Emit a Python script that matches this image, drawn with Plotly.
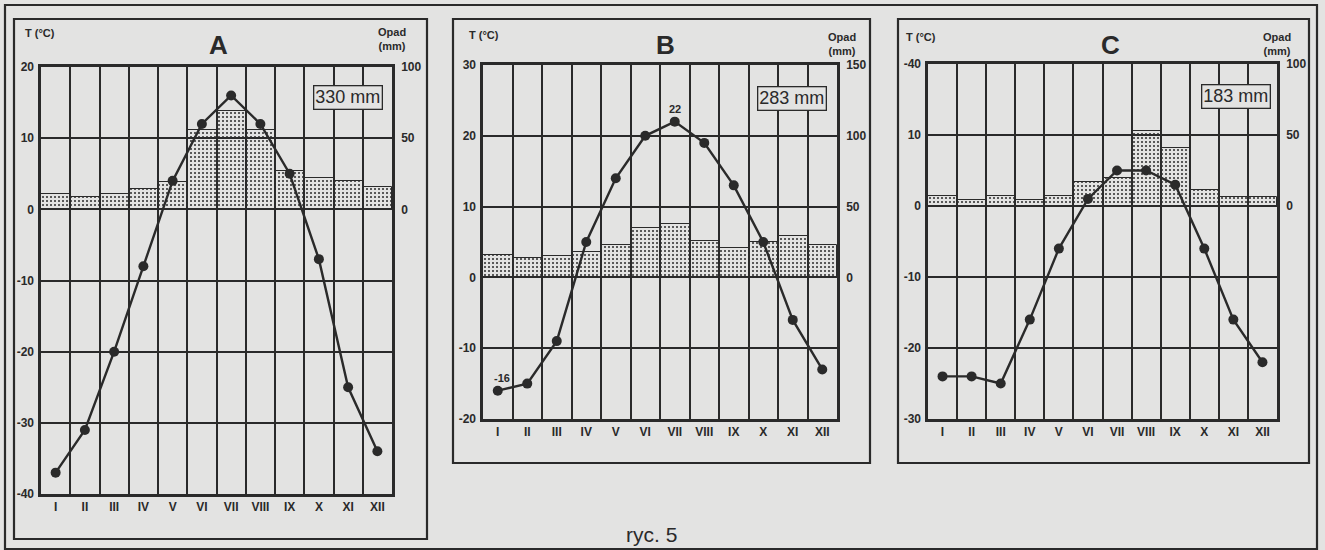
import plotly.graph_objects as go

W, H = 1325, 550
months = ["I", "II", "III", "IV", "V", "VI", "VII", "VIII", "IX", "X", "XI", "XII"]
month_pos = list(range(1, 13))

temp_A = [-37, -31, -20, -8, 4, 12, 16, 12, 5, -7, -25, -34]
prec_A = [11, 9, 11, 14, 19, 56, 69, 56, 27, 22, 20, 16]
temp_B = [-16, -15, -9, 5, 14, 20, 22, 19, 13, 5, -6, -13]
prec_B = [16, 14, 15, 18, 23, 35, 38, 26, 21, 25, 29, 23]
temp_C = [-24, -24, -25, -16, -6, 1, 5, 5, 3, -6, -16, -22]
prec_C = [7, 4, 7, 4, 7, 17, 20, 53, 41, 11, 6, 6]

panel_names = ["A", "B", "C"]
totals = ["330 mm", "283 mm", "183 mm"]
temp_ranges = [[-40, 20], [-20, 30], [-30, 20]]
temp_ticks = [[-40, -30, -20, -10, 0, 10, 20], [-20, -10, 0, 10, 20, 30], [-30, -20, -10, 0, 10, 20]]
temp_ticktext = [["-40", "-30", "-20", "-10", "0", "10", "20"],
                 ["-20", "-10", "0", "10", "20", "30"],
                 ["-30", "-20", "-10", "0", "10", "-40"]]
prec_ticks = [[0, 50, 100], [0, 50, 100, 150], [0, 50, 100]]
temps = [temp_A, temp_B, temp_C]
precs = [prec_A, prec_B, prec_C]

BG = "#e3e3e2"
INK = "#2a2a2a"
FONT = "Liberation Sans, Arial, sans-serif"

def px(x):
    return x / W

def py(y):
    return 1 - y / H

# plot areas in pixels (x0, x1, ytop, ybottom)
areas = [(41, 392, 67, 494), (483, 837, 65, 419), (928, 1277, 64, 419)]
frames = [(14, 19, 427, 539), (453, 19, 870, 463), (898, 19, 1309, 463)]

fig = go.Figure()
layout = dict(
    width=W, height=H, margin=dict(l=0, r=0, t=0, b=0, pad=0, autoexpand=False),
    paper_bgcolor=BG, plot_bgcolor=BG, showlegend=False, bargap=0,
    font=dict(family=FONT, color=INK),
)
annotations = []
shapes = []

for i in range(3):
    xa = "x" if i == 0 else f"x{i+1}"
    pa = "y" if i == 0 else f"y{i+1}"
    ta = f"y{i+4}"
    x0, x1, yt, yb = areas[i]
    tr = temp_ranges[i]
    pr = [tr[0] * 5, tr[1] * 5]

    fig.add_trace(go.Bar(
        x=month_pos, y=precs[i], width=1, xaxis=xa, yaxis=pa,
        marker=dict(color="#2a2a2a", line=dict(color=INK, width=1.0),
                    pattern=dict(shape=".", size=4, solidity=0.2, fillmode="replace",
                                 bgcolor="rgba(0,0,0,0)")),
        hoverinfo="skip",
    ))
    fig.add_trace(go.Scatter(
        x=month_pos, y=temps[i], xaxis=xa, yaxis=ta, mode="lines+markers",
        line=dict(color=INK, width=2.4), marker=dict(color=INK, size=10),
        hoverinfo="skip",
    ))

    xkey = "xaxis" if i == 0 else f"xaxis{i+1}"
    pkey = "yaxis" if i == 0 else f"yaxis{i+1}"
    tkey = f"yaxis{i+4}"
    layout[xkey] = dict(
        domain=[px(x0), px(x1)], anchor=pa, range=[0.5, 12.5], automargin=False,
        tickvals=month_pos, ticktext=months, ticks="", showgrid=False, zeroline=False,
        tickfont=dict(size=12, family=FONT, color=INK, weight="bold"),
        showline=True, mirror=True, linecolor=INK, linewidth=2.5,
        minor=dict(tick0=0.5, dtick=1, showgrid=True, gridcolor=INK, gridwidth=2, ticks=""),
        fixedrange=True,
    )
    layout[pkey] = dict(
        domain=[py(yb), py(yt)], anchor=xa, side="right", range=pr, automargin=False,
        tickvals=prec_ticks[i], ticks="", showgrid=False, zeroline=False,
        tickfont=dict(size=12, family=FONT, color=INK, weight="bold"),
        showline=True, mirror=True, linecolor=INK, linewidth=2.5,
        ticklabelstandoff=4, fixedrange=True,
    )
    layout[tkey] = dict(
        overlaying=pa, anchor=xa, side="left", range=tr, automargin=False,
        tickvals=temp_ticks[i], ticktext=temp_ticktext[i], ticks="",
        showgrid=True, gridcolor=INK, gridwidth=2, zeroline=False,
        tickfont=dict(size=12, family=FONT, color=INK, weight="bold"),
        ticklabelstandoff=6, fixedrange=True,
    )

    fx0, fy0, fx1, fy1 = frames[i]
    shapes.append(dict(type="rect", xref="paper", yref="paper",
                       x0=px(fx0), x1=px(fx1), y0=py(fy1), y1=py(fy0),
                       line=dict(color=INK, width=2.2)))

# outer frame
shapes.append(dict(type="rect", xref="paper", yref="paper",
                   x0=px(5), x1=px(1317), y0=py(549), y1=py(5),
                   line=dict(color=INK, width=2.2)))

def note(text, x, y, size, bold=True, xanchor="center", **kw):
    d = dict(text=text, x=px(x), y=py(y), xref="paper", yref="paper",
             xanchor=xanchor, yanchor="middle", showarrow=False,
             font=dict(size=size, weight="bold" if bold else "normal", color=INK, family=FONT))
    d.update(kw)
    annotations.append(d)

for name, (x, y) in zip(panel_names, [(218, 45), (665, 45), (1110, 45)]):
    note(name, x, y, 26)
for (x, y) in [(23, 33), (467, 35), (904, 37)]:
    note("T (°C)", x, y, 11, xanchor="left")
for (x, y) in [(392, 39), (842, 44), (1277, 44)]:
    note("Opad<br>(mm)", x, y, 11)
for t, (x, y) in zip(totals, [(348, 97), (792, 98), (1236, 96)]):
    note(t, x, y, 18, bold=False, bordercolor=INK, borderwidth=1.3, borderpad=1, bgcolor=BG)

# data labels in panel B
annotations.append(dict(text=str(temp_B[6]), x=month_pos[6], y=temp_B[6], xref="x2", yref="y5",
                        xanchor="center", yanchor="middle",
                        showarrow=False, yshift=13, font=dict(size=11, weight="bold", color=INK)))
annotations.append(dict(text=str(temp_B[0]), x=month_pos[0], y=temp_B[0], xref="x2", yref="y5",
                        xanchor="center", yanchor="middle",
                        showarrow=False, yshift=13, xshift=4, font=dict(size=11, weight="bold", color=INK)))

note("ryc. 5", 651, 534, 21, bold=False)

layout["annotations"] = annotations
layout["shapes"] = shapes
fig.update_layout(**layout)
fig.write_html("out.html", config={"displayModeBar": False},
               post_script="document.body.style.margin='0';document.body.style.background='%s';" % BG)
